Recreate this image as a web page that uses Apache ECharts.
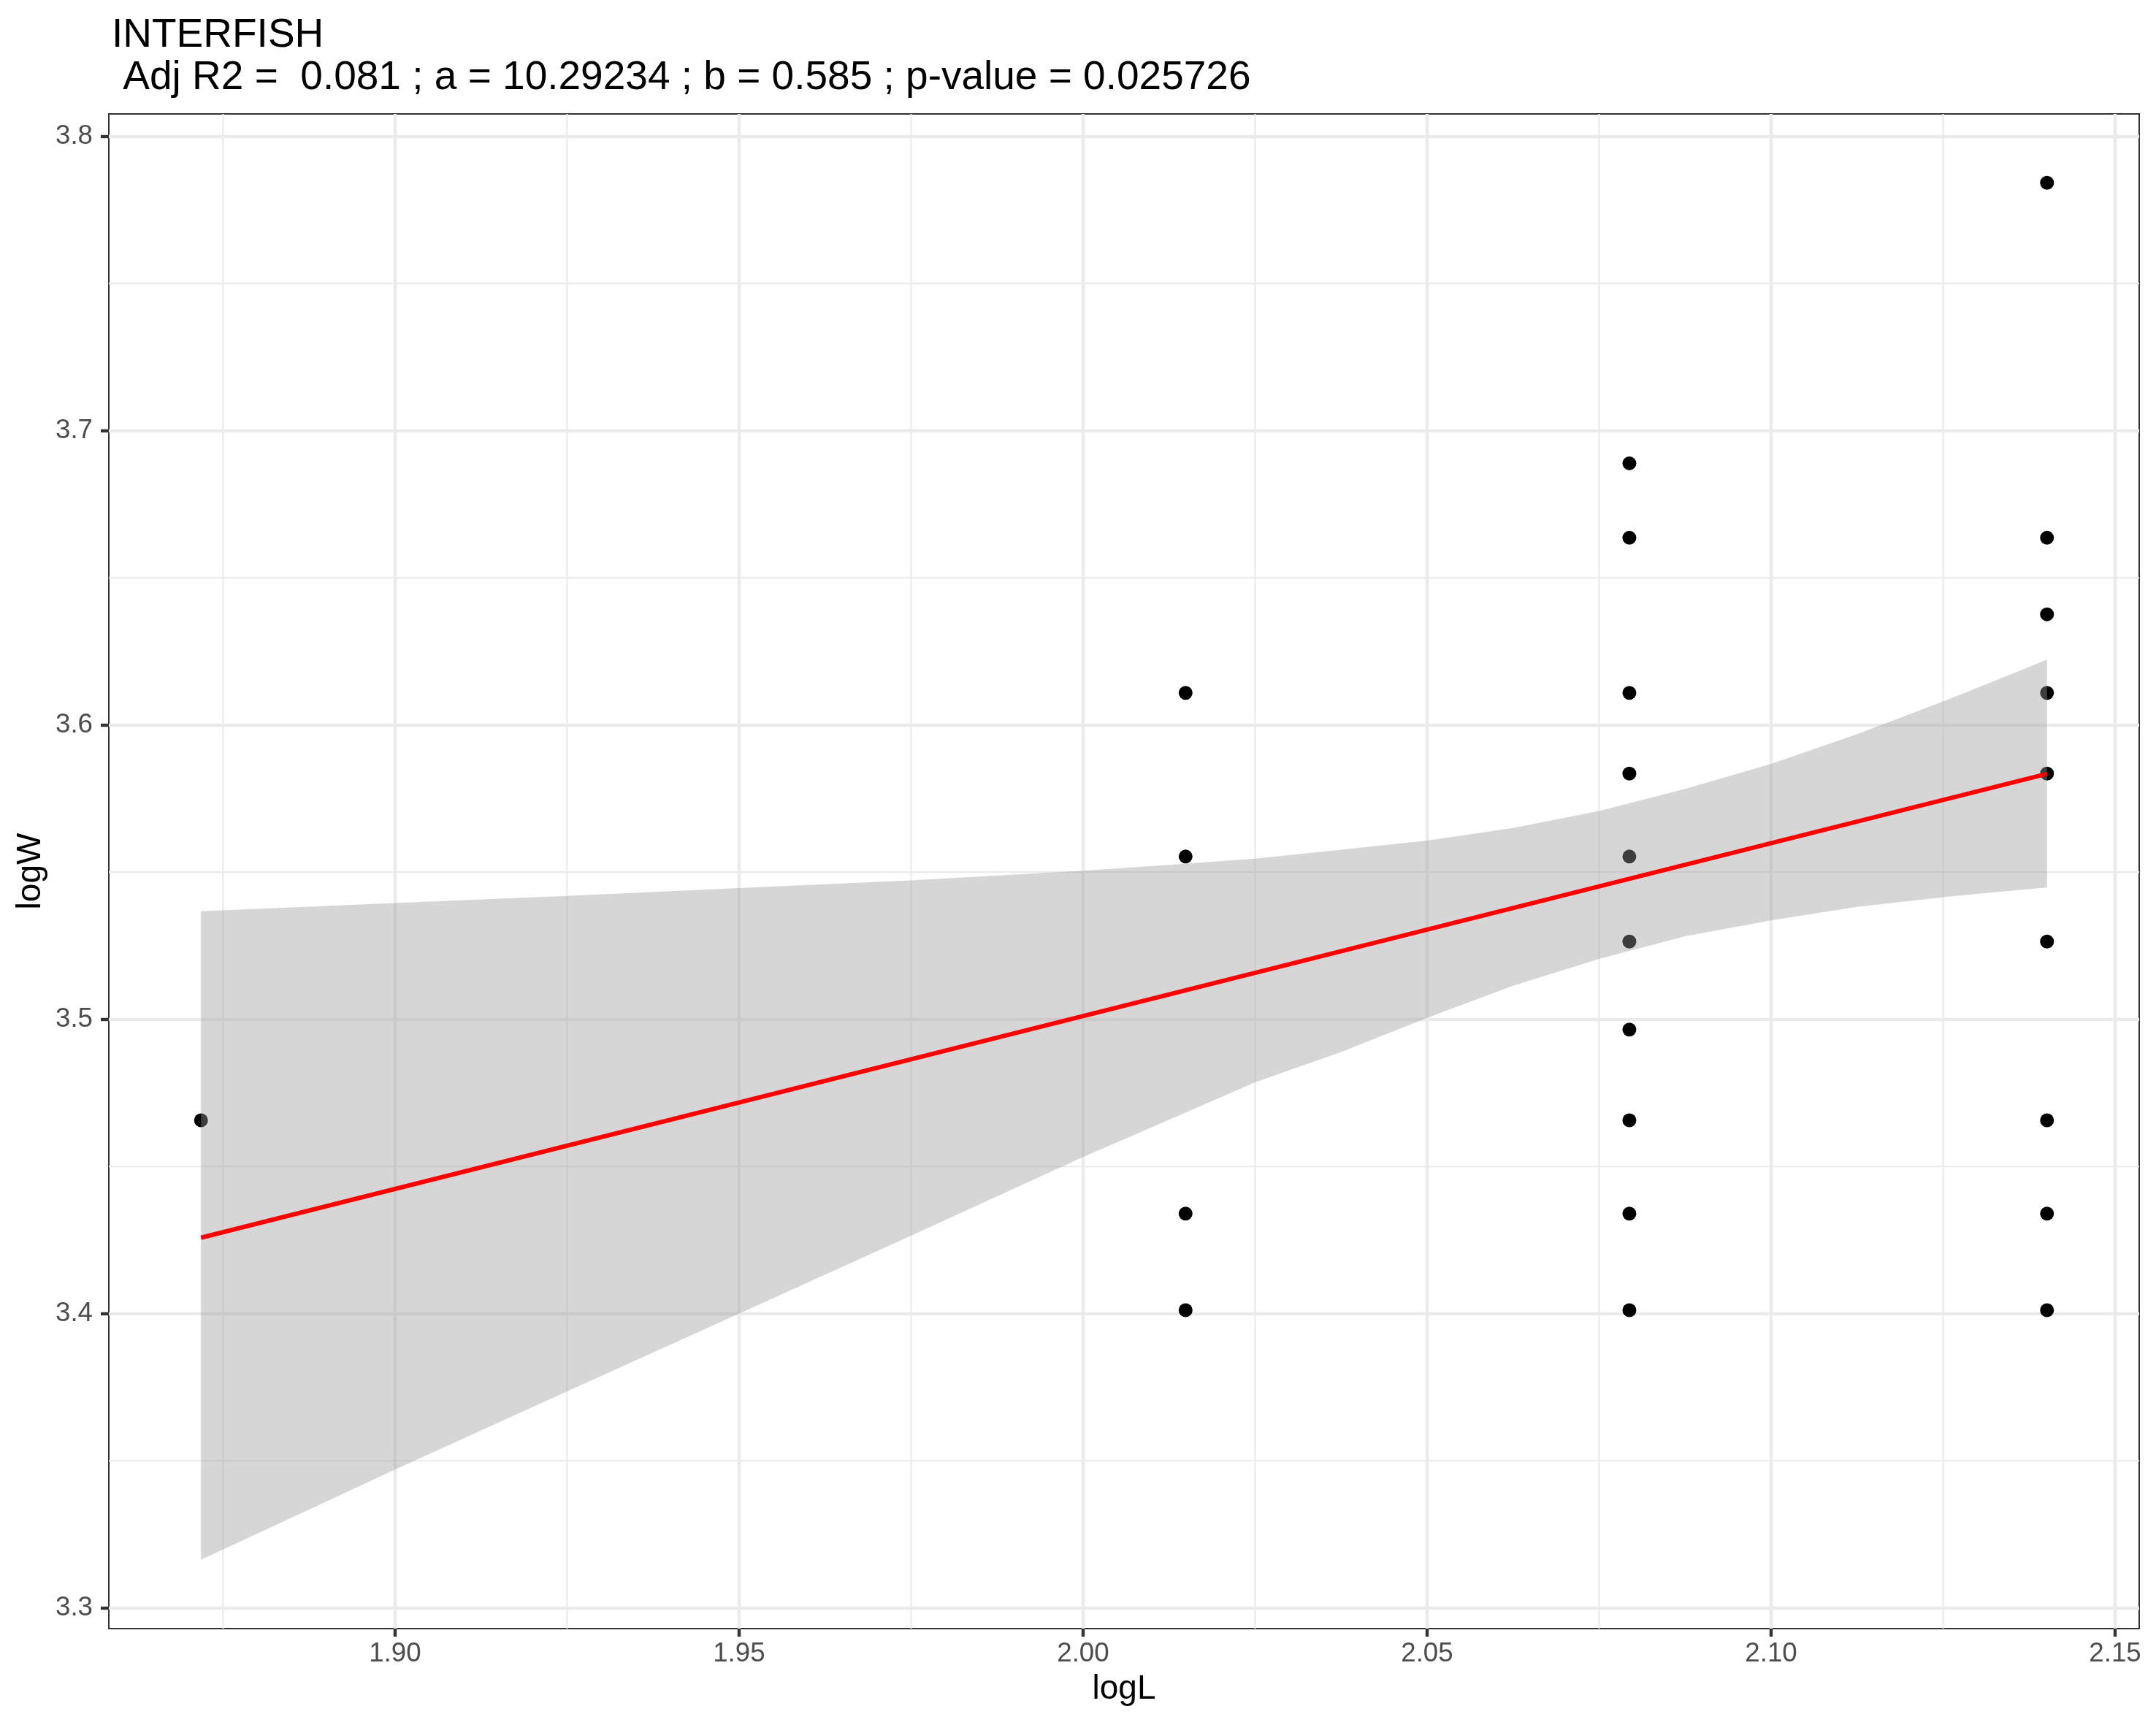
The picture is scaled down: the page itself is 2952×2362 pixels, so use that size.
<!DOCTYPE html>
<html>
<head>
<meta charset="utf-8">
<script src="https://cdn.jsdelivr.net/npm/echarts@6/dist/echarts.min.js"></script>
<style>
html,body{margin:0;padding:0;background:#fff;}
#chart{width:2952px;height:2362px;}
</style>
</head>
<body>
<div id="chart"></div>
<script>
// ---- data ----
const titleText = 'INTERFISH\n Adj R2 =  0.081 ; a = 10.29234 ; b = 0.585 ; p-value = 0.025726';

const pointsX = [1.8718,
  2.0149, 2.0149, 2.0149, 2.0149,
  2.0794, 2.0794, 2.0794, 2.0794, 2.0794, 2.0794, 2.0794, 2.0794, 2.0794, 2.0794,
  2.1401, 2.1401, 2.1401, 2.1401, 2.1401, 2.1401, 2.1401, 2.1401, 2.1401];
const pointsY = [3.4657,
  3.6109, 3.5553, 3.4340, 3.4012,
  3.6889, 3.6636, 3.6109, 3.5835, 3.5553, 3.5264, 3.4965, 3.4657, 3.4340, 3.4012,
  3.7842, 3.6636, 3.6376, 3.6109, 3.5835, 3.5264, 3.4657, 3.4340, 3.4012];

const fitX = [1.8718, 2.1401];
const fitY = [3.4258, 3.5834];

const bandX     = [1.8718, 1.9000, 1.9250, 1.9500, 1.9750, 2.0000, 2.0125, 2.0250, 2.0375, 2.0500, 2.0625, 2.0750, 2.0875, 2.1000, 2.1125, 2.1250, 2.1321, 2.1401];
const bandLower = [3.3164, 3.3470, 3.3736, 3.4000, 3.4265, 3.4532, 3.4659, 3.4786, 3.4889, 3.5005, 3.5114, 3.5205, 3.5282, 3.5336, 3.5382, 3.5415, 3.5431, 3.5448];
const bandUpper = [3.5367, 3.5395, 3.5419, 3.5446, 3.5472, 3.5505, 3.5525, 3.5546, 3.5576, 3.5607, 3.5650, 3.5708, 3.5783, 3.5868, 3.5969, 3.6080, 3.6146, 3.6222];

const xTicks = [1.90, 1.95, 2.00, 2.05, 2.10, 2.15];
const yTicks = [3.3, 3.4, 3.5, 3.6, 3.7, 3.8];
const xMinor = [1.875, 1.925, 1.975, 2.025, 2.075, 2.125];
const yMinor = [3.35, 3.45, 3.55, 3.65, 3.75];
const xRange = [1.8584, 2.1535];
const yRange = [3.2930, 3.8076];

// ---- chart ----
const FONT = 'Liberation Sans';
const chart = echarts.init(document.getElementById('chart'), null, {renderer: 'canvas'});

const minorStyle = {stroke: '#EBEBEB', lineWidth: 2.2};

chart.setOption({
  animation: false,
  backgroundColor: '#ffffff',
  title: {
    text: titleText,
    left: 148, top: 15,
    textStyle: {fontFamily: FONT, fontSize: 55, fontWeight: 'normal', color: '#000', lineHeight: 58}
  },
  grid: {
    left: 149, right: 23, top: 156, bottom: 132,
    show: true, borderColor: '#333333', borderWidth: 2, backgroundColor: 'transparent'
  },
  xAxis: {
    type: 'value', min: xRange[0], max: xRange[1], splitNumber: 5,
    name: 'logL', nameLocation: 'middle', nameGap: 60,
    nameTextStyle: {fontFamily: FONT, fontSize: 46, color: '#000'},
    axisLine: {show: false},
    axisTick: {show: true, length: 11, lineStyle: {color: '#333333', width: 4.4}, customValues: xTicks},
    axisLabel: {customValues: xTicks, formatter: v => Number(v).toFixed(2), margin: 16,
      fontFamily: FONT, fontSize: 36.7, color: '#4D4D4D'},
    splitLine: {show: true, lineStyle: {color: '#EBEBEB', width: 4.4}}
  },
  yAxis: {
    type: 'value', min: yRange[0], max: yRange[1], splitNumber: 5,
    name: 'logW', nameLocation: 'middle', nameGap: 82,
    nameTextStyle: {fontFamily: FONT, fontSize: 46, color: '#000'},
    axisLine: {show: false},
    axisTick: {show: true, length: 11, lineStyle: {color: '#333333', width: 4.4}, customValues: yTicks},
    axisLabel: {customValues: yTicks, formatter: v => Number(v).toFixed(1), margin: 22,
      fontFamily: FONT, fontSize: 36.7, color: '#4D4D4D'},
    splitLine: {show: true, lineStyle: {color: '#EBEBEB', width: 4.4}}
  },
  series: [
    {
      type: 'custom', z: 1, silent: true,
      data: xMinor.map(v => [v, yRange[0]]),
      encode: {x: 0, y: 1},
      renderItem: function (params, api) {
        const cs = params.coordSys;
        const p = api.coord([api.value(0), api.value(1)]);
        return {type: 'line', shape: {x1: p[0], y1: cs.y, x2: p[0], y2: cs.y + cs.height}, style: minorStyle};
      }
    },
    {
      type: 'custom', z: 1, silent: true,
      data: yMinor.map(v => [xRange[0], v]),
      encode: {x: 0, y: 1},
      renderItem: function (params, api) {
        const cs = params.coordSys;
        const p = api.coord([api.value(0), api.value(1)]);
        return {type: 'line', shape: {x1: cs.x, y1: p[1], x2: cs.x + cs.width, y2: p[1]}, style: minorStyle};
      }
    },
    {
      type: 'scatter', z: 2, silent: true,
      symbol: 'circle', symbolSize: 19,
      itemStyle: {color: '#000000', opacity: 1},
      data: pointsX.map((x, i) => [x, pointsY[i]])
    },
    {
      type: 'custom', z: 3, silent: true,
      data: bandX.map((x, i) => [x, bandLower[i], bandUpper[i]]),
      encode: {x: 0, y: [1, 2]},
      renderItem: function (params, api) {
        if (params.dataIndex !== 0) return null;
        const pts = [];
        for (let i = 0; i < bandX.length; i++) pts.push(api.coord([bandX[i], bandUpper[i]]));
        for (let i = bandX.length - 1; i >= 0; i--) pts.push(api.coord([bandX[i], bandLower[i]]));
        return {type: 'polygon', shape: {points: pts}, style: {fill: 'rgba(153,153,153,0.4)'}};
      }
    },
    {
      type: 'line', z: 4, silent: true,
      symbol: 'none',
      lineStyle: {color: '#FF0000', width: 6},
      data: fitX.map((x, i) => [x, fitY[i]])
    }
  ]
});
</script>
</body>
</html>
